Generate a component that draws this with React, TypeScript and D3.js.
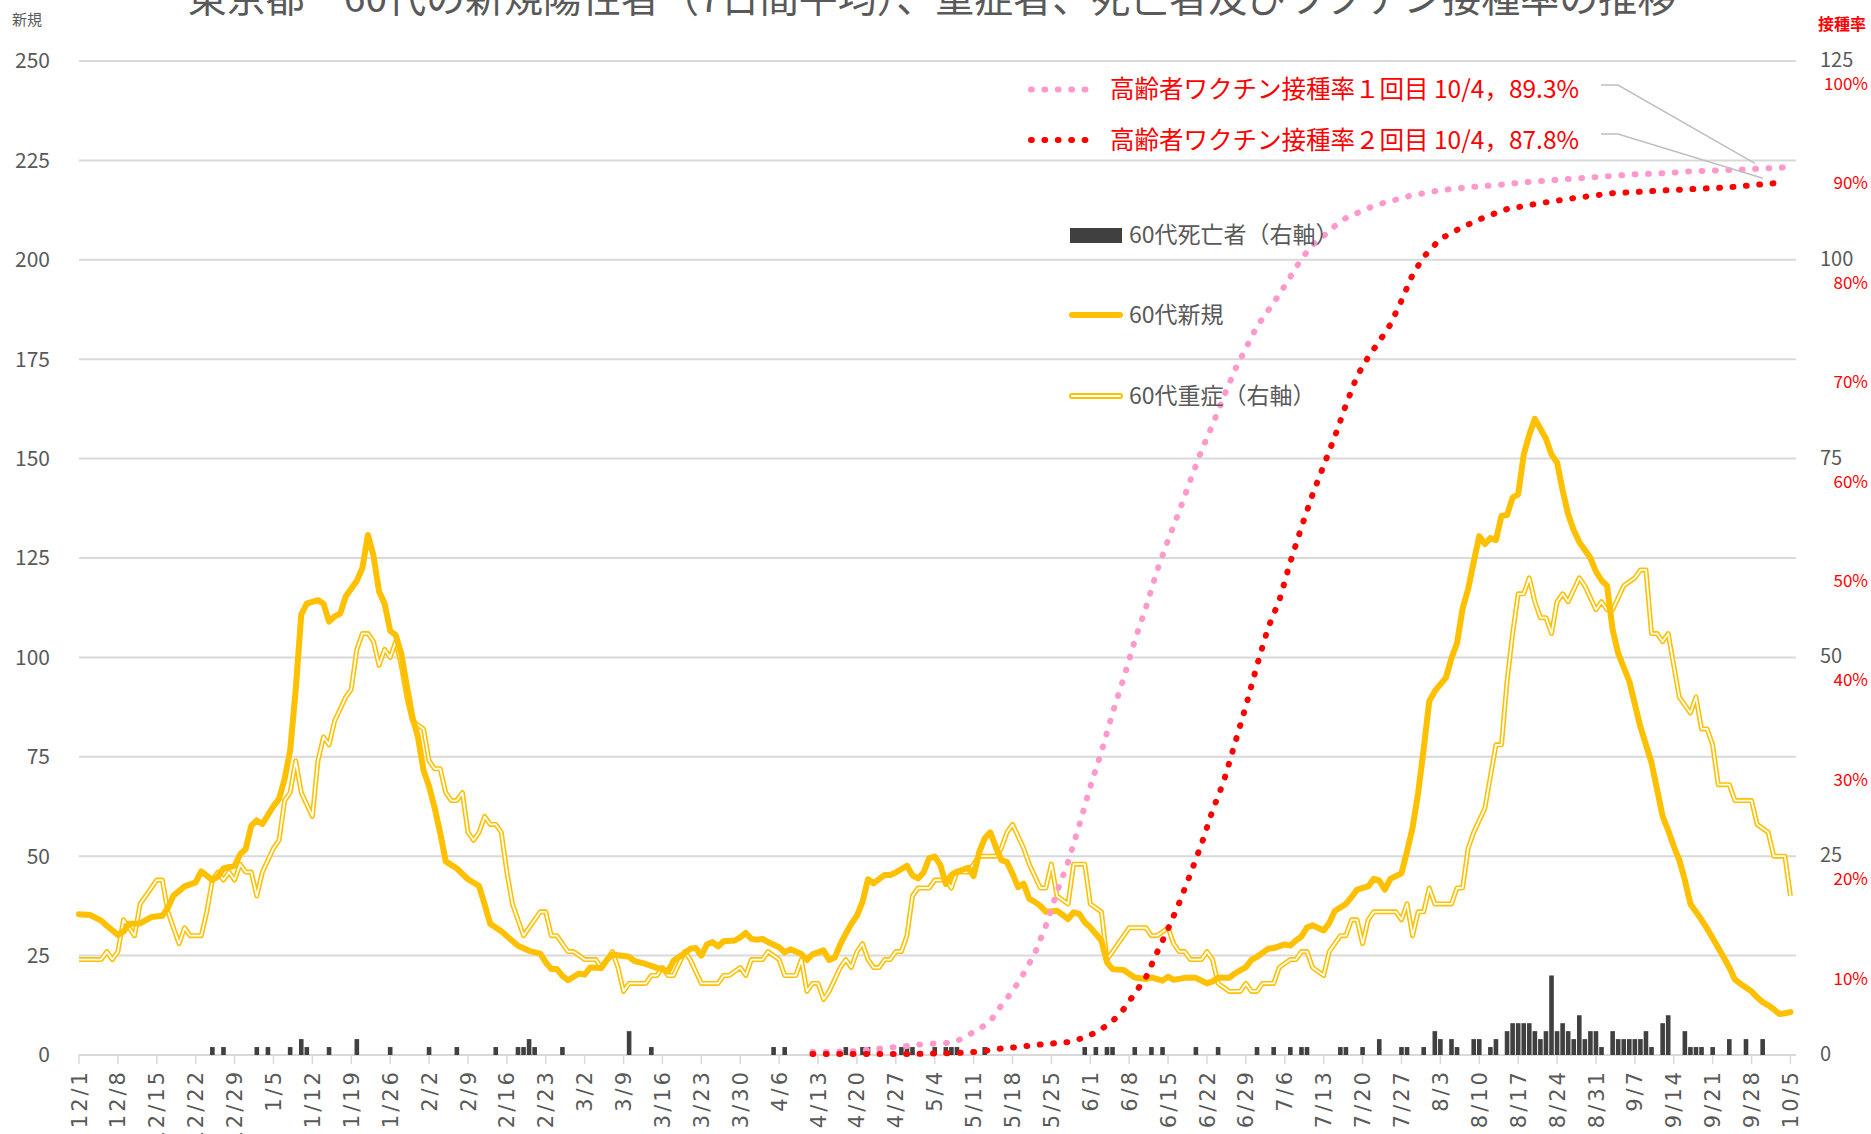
import * as d3 from "d3";

// 60代 新規陽性者 (7日間平均) — 左軸
const newCases: [string, number][] = [
  ["12/1", 35.4], ["12/3", 35.2], ["12/5", 33.8], ["12/6", 32.5], ["12/8", 30.2], ["12/9", 31],
  ["12/10", 33], ["12/12", 33.1], ["12/14", 34.7], ["12/16", 35], ["12/17", 37], ["12/18", 40.1],
  ["12/20", 42.4], ["12/22", 43.4], ["12/23", 46.2], ["12/25", 44], ["12/26", 44.9], ["12/27", 46.9],
  ["12/29", 47.6], ["12/30", 50.5], ["12/31", 51.8], ["1/1", 57.7], ["1/2", 59], ["1/3", 58.1],
  ["1/5", 62.6], ["1/6", 64.4], ["1/7", 69.4], ["1/8", 76.6], ["1/9", 91.9], ["1/10", 110.8],
  ["1/11", 113.5], ["1/13", 114.4], ["1/14", 113.5], ["1/15", 109], ["1/16", 110.3], ["1/17", 111],
  ["1/18", 115.3], ["1/20", 119.3], ["1/21", 122.5], ["1/22", 130.8], ["1/23", 125.6], ["1/24", 116.6],
  ["1/25", 113.5], ["1/26", 106.7], ["1/27", 105.6], ["1/28", 100.9], ["1/29", 92.8], ["1/30", 85],
  ["1/31", 80], ["2/1", 71.6], ["2/2", 67.6], ["2/3", 62.2], ["2/4", 55.9], ["2/5", 48.7],
  ["2/7", 46.9], ["2/9", 44.2], ["2/11", 42.5], ["2/12", 37.9], ["2/13", 33], ["2/15", 31.1],
  ["2/18", 27.5], ["2/20", 26.2], ["2/22", 25.5], ["2/23", 23.3], ["2/24", 21.6], ["2/25", 21.6],
  ["2/26", 19.9], ["2/27", 18.8], ["3/1", 20.5], ["3/2", 20.2], ["3/3", 22], ["3/5", 21.9],
  ["3/6", 23.9], ["3/7", 25.3], ["3/10", 24.7], ["3/11", 23.6], ["3/13", 22.9], ["3/15", 21.9],
  ["3/16", 21.6], ["3/17", 21], ["3/18", 23.7], ["3/20", 25.6], ["3/21", 26.7], ["3/22", 26.9],
  ["3/23", 25], ["3/24", 27.8], ["3/25", 28.4], ["3/26", 27.3], ["3/27", 28.6], ["3/29", 28.8],
  ["3/30", 29.6], ["3/31", 30.7], ["4/1", 29.2], ["4/2", 29], ["4/3", 29.2], ["4/4", 28.4],
  ["4/6", 27.1], ["4/7", 25.8], ["4/8", 26.6], ["4/10", 25.4], ["4/11", 23.9], ["4/12", 25.3],
  ["4/14", 26.3], ["4/15", 23.9], ["4/16", 24.5], ["4/17", 27.8], ["4/18", 30.5], ["4/19", 33],
  ["4/20", 35], ["4/21", 38.5], ["4/22", 44.2], ["4/23", 43.2], ["4/25", 45.3], ["4/26", 45.3],
  ["4/27", 45.9], ["4/29", 47.6], ["4/30", 45.2], ["5/1", 44.4], ["5/2", 45.9], ["5/3", 49.5],
  ["5/4", 49.9], ["5/5", 47.8], ["5/6", 43], ["5/7", 45.3], ["5/8", 46.1], ["5/10", 47.1],
  ["5/11", 45], ["5/12", 51], ["5/13", 54.5], ["5/14", 56], ["5/15", 52.3], ["5/16", 49],
  ["5/17", 48.5], ["5/18", 45.6], ["5/19", 42.2], ["5/20", 43.1], ["5/21", 39.3], ["5/22", 38.5],
  ["5/23", 37.5], ["5/24", 36], ["5/26", 36.3], ["5/28", 34.2], ["5/29", 35.9], ["5/30", 35.5],
  ["5/31", 33.4], ["6/1", 32.1], ["6/3", 28.8], ["6/4", 23.3], ["6/5", 21.6], ["6/7", 21.4],
  ["6/8", 20.4], ["6/9", 19.5], ["6/11", 19.1], ["6/12", 19.5], ["6/14", 18.7], ["6/15", 19.7],
  ["6/16", 18.9], ["6/18", 19.4], ["6/20", 19.4], ["6/22", 18], ["6/23", 18.5], ["6/24", 19.5],
  ["6/26", 19.4], ["6/27", 20.5], ["6/29", 22.1], ["6/30", 23.9], ["7/1", 24.7], ["7/3", 26.7],
  ["7/4", 26.9], ["7/6", 27.8], ["7/7", 27.5], ["7/8", 28.8], ["7/9", 29.8], ["7/10", 32.1],
  ["7/11", 32.6], ["7/13", 31.3], ["7/14", 33.2], ["7/15", 36.2], ["7/17", 38], ["7/18", 39.7],
  ["7/19", 41.6], ["7/21", 42.4], ["7/22", 44.3], ["7/23", 43.9], ["7/24", 41.6], ["7/25", 44.3],
  ["7/27", 45.7], ["7/28", 51.2], ["7/29", 57.2], ["7/30", 65.9], ["7/31", 77], ["8/1", 89],
  ["8/2", 91.5], ["8/4", 94.9], ["8/5", 99.8], ["8/6", 103.6], ["8/7", 112.3], ["8/8", 117.2],
  ["8/9", 124], ["8/10", 130.5], ["8/11", 128.5], ["8/12", 130], ["8/13", 129.5], ["8/14", 135.6],
  ["8/15", 135.8], ["8/16", 140.2], ["8/17", 141], ["8/18", 151], ["8/19", 156], ["8/20", 160],
  ["8/21", 157.5], ["8/22", 155], ["8/23", 151], ["8/24", 149], ["8/25", 142], ["8/26", 136],
  ["8/27", 132], ["8/28", 129], ["8/29", 127], ["8/30", 125], ["8/31", 121.6], ["9/1", 119.4],
  ["9/2", 118], ["9/3", 107], ["9/4", 101], ["9/5", 97.5], ["9/6", 94], ["9/8", 82.5],
  ["9/10", 73.5], ["9/12", 60], ["9/13", 56.5], ["9/14", 52.5], ["9/15", 49], ["9/16", 44],
  ["9/17", 38], ["9/19", 34], ["9/20", 31.8], ["9/22", 27], ["9/23", 24.5], ["9/24", 22],
  ["9/25", 19], ["9/26", 17.9], ["9/28", 16], ["9/29", 14.5], ["9/30", 13.3], ["10/1", 12.5],
  ["10/2", 11.5], ["10/3", 10.3], ["10/4", 10.5], ["10/5", 10.8],
];

// 60代 重症者 — 右軸
const severeCases: [string, number][] = [
  ["12/1", 12], ["12/5", 12], ["12/6", 13], ["12/7", 12], ["12/8", 13], ["12/9", 17], ["12/11", 15],
  ["12/12", 19], ["12/13", 20], ["12/15", 22], ["12/16", 22], ["12/17", 18], ["12/18", 16], ["12/19", 14],
  ["12/20", 16], ["12/21", 15], ["12/23", 15], ["12/24", 18], ["12/25", 22], ["12/26", 23], ["12/27", 22],
  ["12/28", 23], ["12/29", 22], ["12/30", 24], ["12/31", 23], ["1/1", 23], ["1/2", 20], ["1/3", 23],
  ["1/5", 26], ["1/6", 27], ["1/7", 32], ["1/8", 33], ["1/9", 37], ["1/10", 33], ["1/12", 30],
  ["1/13", 37], ["1/14", 40], ["1/15", 39], ["1/16", 42], ["1/18", 45], ["1/19", 46], ["1/20", 51],
  ["1/21", 53], ["1/22", 53], ["1/23", 52], ["1/24", 49], ["1/25", 51], ["1/26", 50], ["1/27", 52],
  ["1/28", 49], ["1/29", 45], ["1/30", 42], ["2/1", 41], ["2/2", 37], ["2/3", 36], ["2/4", 36],
  ["2/5", 33], ["2/6", 32], ["2/7", 32], ["2/8", 33], ["2/9", 28], ["2/10", 27], ["2/11", 28],
  ["2/12", 30], ["2/13", 29], ["2/14", 29], ["2/15", 28], ["2/16", 23], ["2/17", 19], ["2/19", 15],
  ["2/20", 16], ["2/22", 18], ["2/23", 18], ["2/24", 15], ["2/25", 15], ["2/27", 13], ["2/28", 13],
  ["3/2", 12], ["3/4", 12], ["3/5", 11], ["3/7", 13], ["3/8", 11], ["3/9", 8], ["3/10", 9],
  ["3/13", 9], ["3/14", 10], ["3/15", 10], ["3/16", 11], ["3/17", 10], ["3/18", 10], ["3/20", 13],
  ["3/21", 12], ["3/23", 9], ["3/26", 9], ["3/27", 10], ["3/28", 10], ["3/30", 11], ["3/31", 10],
  ["4/1", 12], ["4/3", 12], ["4/4", 13], ["4/6", 12], ["4/7", 10], ["4/9", 10], ["4/10", 12],
  ["4/11", 8], ["4/12", 9], ["4/13", 9], ["4/14", 7], ["4/15", 8], ["4/17", 11], ["4/18", 12],
  ["4/19", 11], ["4/20", 13], ["4/21", 14], ["4/22", 12], ["4/23", 11], ["4/24", 11], ["4/25", 12],
  ["4/26", 12], ["4/27", 13], ["4/28", 13], ["4/29", 15], ["4/30", 20], ["5/1", 21], ["5/3", 21],
  ["5/4", 22], ["5/6", 22], ["5/7", 21], ["5/8", 23], ["5/10", 23], ["5/12", 25], ["5/13", 25],
  ["5/15", 25], ["5/16", 26], ["5/17", 28], ["5/18", 29], ["5/20", 26], ["5/21", 24], ["5/23", 21],
  ["5/24", 21], ["5/25", 24], ["5/26", 20], ["5/28", 19], ["5/29", 24], ["5/31", 24], ["6/1", 19],
  ["6/3", 18], ["6/4", 12], ["6/6", 14], ["6/8", 16], ["6/11", 16], ["6/12", 15], ["6/13", 15],
  ["6/15", 16], ["6/16", 14], ["6/17", 13], ["6/18", 13], ["6/19", 12], ["6/21", 12], ["6/22", 13],
  ["6/23", 12], ["6/24", 9], ["6/26", 8], ["6/28", 8], ["6/29", 9], ["6/30", 8], ["7/1", 8],
  ["7/2", 9], ["7/4", 9], ["7/5", 11], ["7/7", 12], ["7/8", 12], ["7/9", 13], ["7/10", 13],
  ["7/11", 11], ["7/13", 10], ["7/14", 13], ["7/16", 15], ["7/17", 15], ["7/18", 17], ["7/19", 17],
  ["7/20", 14], ["7/21", 17], ["7/22", 18], ["7/26", 18], ["7/27", 17], ["7/28", 19], ["7/29", 15],
  ["7/30", 18], ["7/31", 18], ["8/1", 21], ["8/2", 19], ["8/5", 19], ["8/6", 21], ["8/7", 21],
  ["8/8", 26], ["8/9", 28], ["8/11", 31], ["8/12", 35], ["8/13", 39], ["8/14", 39], ["8/15", 47],
  ["8/16", 53], ["8/17", 58], ["8/18", 58], ["8/19", 60], ["8/20", 57], ["8/21", 55], ["8/22", 55],
  ["8/23", 53], ["8/24", 57], ["8/25", 58], ["8/26", 57], ["8/28", 60], ["8/29", 59], ["8/31", 56],
  ["9/1", 57], ["9/2", 56], ["9/3", 56], ["9/5", 59], ["9/7", 60], ["9/8", 61], ["9/9", 61],
  ["9/10", 53], ["9/11", 53], ["9/12", 52], ["9/13", 53], ["9/14", 49], ["9/15", 45], ["9/17", 43],
  ["9/18", 45], ["9/19", 41], ["9/20", 41], ["9/21", 39], ["9/22", 34], ["9/24", 34], ["9/25", 32],
  ["9/28", 32], ["9/29", 29], ["10/1", 28], ["10/2", 25], ["10/4", 25], ["10/5", 20],
];

// 60代 死亡者 — 右軸 (0 の日は省略)
const deaths: [string, number][] = [
  ["12/25", 1], ["12/27", 1], ["1/2", 1], ["1/4", 1], ["1/8", 1], ["1/10", 2], ["1/11", 1], ["1/15", 1],
  ["1/20", 2], ["1/26", 1], ["2/2", 1], ["2/7", 1], ["2/14", 1], ["2/18", 1], ["2/19", 1], ["2/20", 2],
  ["2/21", 1], ["2/26", 1], ["3/10", 3], ["3/14", 1], ["4/5", 1], ["4/7", 1], ["4/18", 1], ["4/21", 1],
  ["4/22", 1], ["4/28", 1], ["4/29", 1], ["4/30", 1], ["5/4", 1], ["5/6", 1], ["5/7", 1], ["5/8", 1],
  ["5/13", 1], ["5/31", 1], ["6/2", 1], ["6/4", 1], ["6/5", 1], ["6/9", 1], ["6/12", 1], ["6/14", 1],
  ["6/20", 1], ["6/24", 1], ["7/1", 1], ["7/4", 1], ["7/7", 1], ["7/9", 1], ["7/10", 1], ["7/16", 1],
  ["7/17", 1], ["7/20", 1], ["7/23", 2], ["7/27", 1], ["7/28", 1], ["7/31", 1], ["8/2", 3], ["8/3", 2],
  ["8/5", 2], ["8/6", 1], ["8/9", 2], ["8/10", 2], ["8/12", 1], ["8/13", 2], ["8/15", 3], ["8/16", 4],
  ["8/17", 4], ["8/18", 4], ["8/19", 4], ["8/20", 3], ["8/21", 2], ["8/22", 3], ["8/23", 10], ["8/24", 3],
  ["8/25", 4], ["8/26", 3], ["8/27", 2], ["8/28", 5], ["8/29", 2], ["8/30", 3], ["8/31", 3], ["9/1", 1],
  ["9/3", 3], ["9/4", 2], ["9/5", 2], ["9/6", 2], ["9/7", 2], ["9/8", 2], ["9/9", 3], ["9/10", 1],
  ["9/12", 4], ["9/13", 5], ["9/16", 3], ["9/17", 1], ["9/18", 1], ["9/19", 1], ["9/21", 1], ["9/24", 2],
  ["9/27", 2], ["9/30", 2],
];

// 高齢者ワクチン接種率 (%)
const firstDose: [string, number][] = [
  ["4/12", 0.3], ["4/16", 0.3], ["4/20", 0.4], ["4/25", 0.7], ["4/29", 0.9], ["5/2", 1.1], ["5/6", 1.2],
  ["5/8", 1.4], ["5/10", 2.0], ["5/12", 2.6], ["5/14", 3.4], ["5/16", 5.0], ["5/18", 6.4], ["5/20", 8.2],
  ["5/22", 10.2], ["5/24", 13.0], ["5/26", 16.4], ["5/28", 19.4], ["5/30", 23.1], ["6/1", 27.0],
  ["6/3", 30.5], ["6/5", 34.4], ["6/7", 37.9], ["6/9", 41.7], ["6/11", 45.0], ["6/13", 48.7],
  ["6/15", 51.8], ["6/17", 54.7], ["6/19", 57.8], ["6/21", 60.8], ["6/23", 63.4], ["6/25", 66.2],
  ["6/27", 68.9], ["6/29", 71.1], ["7/1", 73.3], ["7/3", 74.9], ["7/5", 76.5], ["7/7", 78.3],
  ["7/9", 80.1], ["7/11", 81.5], ["7/13", 82.4], ["7/15", 83.4], ["7/17", 84.2], ["7/19", 84.7],
  ["7/21", 85.2], ["7/23", 85.6], ["7/25", 85.9], ["7/29", 86.5], ["8/3", 87.0], ["8/8", 87.3],
  ["8/13", 87.5], ["8/18", 87.8], ["8/23", 88.0], ["8/28", 88.2], ["9/2", 88.4], ["9/7", 88.6],
  ["9/12", 88.7], ["9/17", 88.9], ["9/22", 89.0], ["9/27", 89.1], ["10/4", 89.3],
];

const secondDose: [string, number][] = [
  ["4/12", 0.1], ["4/20", 0.1], ["4/30", 0.1], ["5/8", 0.2], ["5/11", 0.3], ["5/13", 0.4], ["5/15", 0.6],
  ["5/17", 0.7], ["5/19", 0.8], ["5/22", 1.0], ["5/24", 1.1], ["5/26", 1.2], ["5/28", 1.3], ["5/30", 1.6],
  ["6/1", 2.0], ["6/3", 2.6], ["6/5", 3.4], ["6/7", 4.6], ["6/9", 6.2], ["6/11", 7.8], ["6/13", 10.3],
  ["6/15", 12.7], ["6/17", 15.3], ["6/19", 18.2], ["6/21", 21.2], ["6/23", 24.6], ["6/25", 27.5],
  ["6/27", 31.3], ["6/29", 35.1], ["7/1", 39.2], ["7/3", 43.0], ["7/5", 45.7], ["7/7", 49.6],
  ["7/9", 53.1], ["7/11", 56.4], ["7/13", 59.3], ["7/15", 62.2], ["7/17", 65.4], ["7/19", 68.3],
  ["7/21", 70.2], ["7/23", 71.8], ["7/25", 73.5], ["7/27", 75.9], ["7/29", 78.5], ["7/31", 80.3],
  ["8/3", 82.1], ["8/7", 83.3], ["8/11", 84.3], ["8/15", 85.1], ["8/21", 85.7], ["8/27", 86.2],
  ["9/3", 86.7], ["9/13", 87.0], ["9/24", 87.3], ["10/4", 87.8],
];

const xTickLabels = [
  "12/1", "12/8", "12/15", "12/22", "12/29", "1/5", "1/12", "1/19", "1/26", "2/2", "2/9", "2/16",
  "2/23", "3/2", "3/9", "3/16", "3/23", "3/30", "4/6", "4/13", "4/20", "4/27", "5/4", "5/11",
  "5/18", "5/25", "6/1", "6/8", "6/15", "6/22", "6/29", "7/6", "7/13", "7/20", "7/27", "8/3",
  "8/10", "8/17", "8/24", "8/31", "9/7", "9/14", "9/21", "9/28", "10/5",
];
const leftTicks = [0, 25, 50, 75, 100, 125, 150, 175, 200, 225, 250];
const rightTicks = [0, 25, 50, 75, 100, 125];
const pctTicks = [10, 20, 30, 40, 50, 60, 70, 80, 90, 100];

const W = 1871;
const H = 1134;
const FONT = "'Noto Sans CJK JP', 'Noto Sans', sans-serif";
const GRAY = "#595959";
const GRID = "#D9D9D9";
const GOLD = "#FFC000";
const PINK = "#FF99CC";
const RED = "#FF0000";

function parseDate(s: string) {
  const [m, d] = s.split("/").map(Number);
  return new Date(Date.UTC(m === 12 ? 2020 : 2021, m - 1, d));
}

const x = d3.scaleUtc().domain([parseDate("12/1"), parseDate("10/6")]).range([79, 1796]);
const yLeft = d3.scaleLinear().domain([0, 250]).range([1055, 61]);
const yRight = d3.scaleLinear().domain([0, 125]).range([1055, 61]);
const yPct = d3.scaleLinear().domain([0, 100]).range([1055, 61]);

export default function App() {
  const newLine = d3.line<[string, number]>()
    .x((d) => x(parseDate(d[0])))
    .y((d) => yLeft(d[1]));
  const severeLine = d3.line<[string, number]>()
    .x((d) => x(parseDate(d[0])))
    .y((d) => yRight(d[1]));
  const pctLine = d3.line<[string, number]>()
    .x((d) => x(parseDate(d[0])))
    .y((d) => yPct(d[1]));

  const barW = 4.6;
  const dots = { strokeWidth: 6, strokeDasharray: "0.8 12.6", strokeLinecap: "round" as const, fill: "none" };

  return (
    <svg width={W} height={H} style={{ position: "absolute", left: 0, top: 0, background: "#fff" }} fontFamily={FONT}>
      {/* title, partly cut off at the top */}
      <text x={932} y={12} textAnchor="middle" fontSize={39} fill={GRAY}>
        東京都　60代の新規陽性者（7日間平均）、重症者、死亡者及びワクチン接種率の推移
      </text>
      <text x={12} y={25} fontSize={15} fill={GRAY}>新規</text>
      <text x={1818} y={30} fontSize={16} fill={RED} fontWeight="bold">接種率</text>

      {/* gridlines */}
      {leftTicks.map((t) => (
        <line key={t} x1={79} x2={1796} y1={yLeft(t)} y2={yLeft(t)} stroke={GRID} strokeWidth={2} />
      ))}
      {/* x ticks */}
      {xTickLabels.map((l) => (
        <line key={l} x1={x(parseDate(l))} x2={x(parseDate(l))} y1={1055} y2={1064} stroke={GRID} strokeWidth={1.5} />
      ))}

      {/* left axis labels */}
      {leftTicks.map((t) => (
        <text key={t} x={50} y={yLeft(t)} dy="0.35em" textAnchor="end" fontSize={21} fill={GRAY}>{t}</text>
      ))}
      {/* right axis labels */}
      {rightTicks.map((t) => (
        <text key={t} x={1820} y={yRight(t) - 1} dy="0.35em" fontSize={20} fill={GRAY}>{t}</text>
      ))}
      {pctTicks.map((t) => (
        <text key={t} x={1868} y={yPct(t) + 23} dy="0.35em" textAnchor="end" fontSize={17} fill={RED}>{t}%</text>
      ))}

      {/* x labels */}
      {xTickLabels.map((l) => (
        <text key={l} transform={`translate(${x(parseDate(l))},1069) rotate(-90)`} textAnchor="end" dy="0.36em"
          fontSize={21} letterSpacing={3} fill={GRAY} fontFamily="'DejaVu Sans', sans-serif">{l}</text>
      ))}

      {/* deaths bars */}
      {deaths.map((d) => (
        <rect key={d[0]} x={x(parseDate(d[0])) - barW / 2} y={yRight(d[1])} width={barW}
          height={yRight(0) - yRight(d[1])} fill="#404040" />
      ))}

      {/* severe (double line) */}
      <path d={severeLine(severeCases) ?? ""} fill="none" stroke={GOLD} strokeWidth={5} strokeLinejoin="round" />
      <path d={severeLine(severeCases) ?? ""} fill="none" stroke="#fff" strokeWidth={1.8} strokeLinejoin="round" />

      {/* new cases */}
      <path d={newLine(newCases) ?? ""} fill="none" stroke={GOLD} strokeWidth={6} strokeLinejoin="round" strokeLinecap="round" />

      {/* vaccination rates */}
      <path d={pctLine(firstDose) ?? ""} stroke={PINK} {...dots} />
      <path d={pctLine(secondDose) ?? ""} stroke={RED} {...dots} />

      {/* series legend */}
      <rect x={1070} y={228} width={52} height={15} fill="#404040" />
      <text x={1129} y={235} dy="0.35em" fontSize={23} fill={GRAY}>60代死亡者（右軸）</text>
      <line x1={1072} x2={1120} y1={315} y2={315} stroke={GOLD} strokeWidth={6} strokeLinecap="round" />
      <text x={1129} y={315} dy="0.35em" fontSize={23} fill={GRAY}>60代新規</text>
      <line x1={1072} x2={1120} y1={396} y2={396} stroke={GOLD} strokeWidth={6} strokeLinecap="round" />
      <line x1={1072} x2={1120} y1={396} y2={396} stroke="#fff" strokeWidth={2.2} strokeLinecap="round" />
      <text x={1129} y={396} dy="0.35em" fontSize={23} fill={GRAY}>60代重症（右軸）</text>

      {/* vaccination legend with leaders */}
      <line x1={1031} x2={1096} y1={89.5} y2={89.5} stroke={PINK} {...dots} />
      <text x={1110} y={89.5} dy="0.35em" fontSize={24.5} fill={RED}>高齢者ワクチン接種率１回目 10/4，89.3%</text>
      <line x1={1031} x2={1096} y1={140} y2={140} stroke={RED} {...dots} />
      <text x={1110} y={140} dy="0.35em" fontSize={24.5} fill={RED}>高齢者ワクチン接種率２回目 10/4，87.8%</text>
      <polyline points={`1601,85 1618,85 ${x(parseDate("10/4")) - 30},${yPct(89.3) - 4}`} fill="none" stroke="#BFBFBF" strokeWidth={1.5} />
      <polyline points={`1601,134 1618,134 ${x(parseDate("10/4")) - 22},${yPct(87.8) - 4}`} fill="none" stroke="#BFBFBF" strokeWidth={1.5} />
    </svg>
  );
}
